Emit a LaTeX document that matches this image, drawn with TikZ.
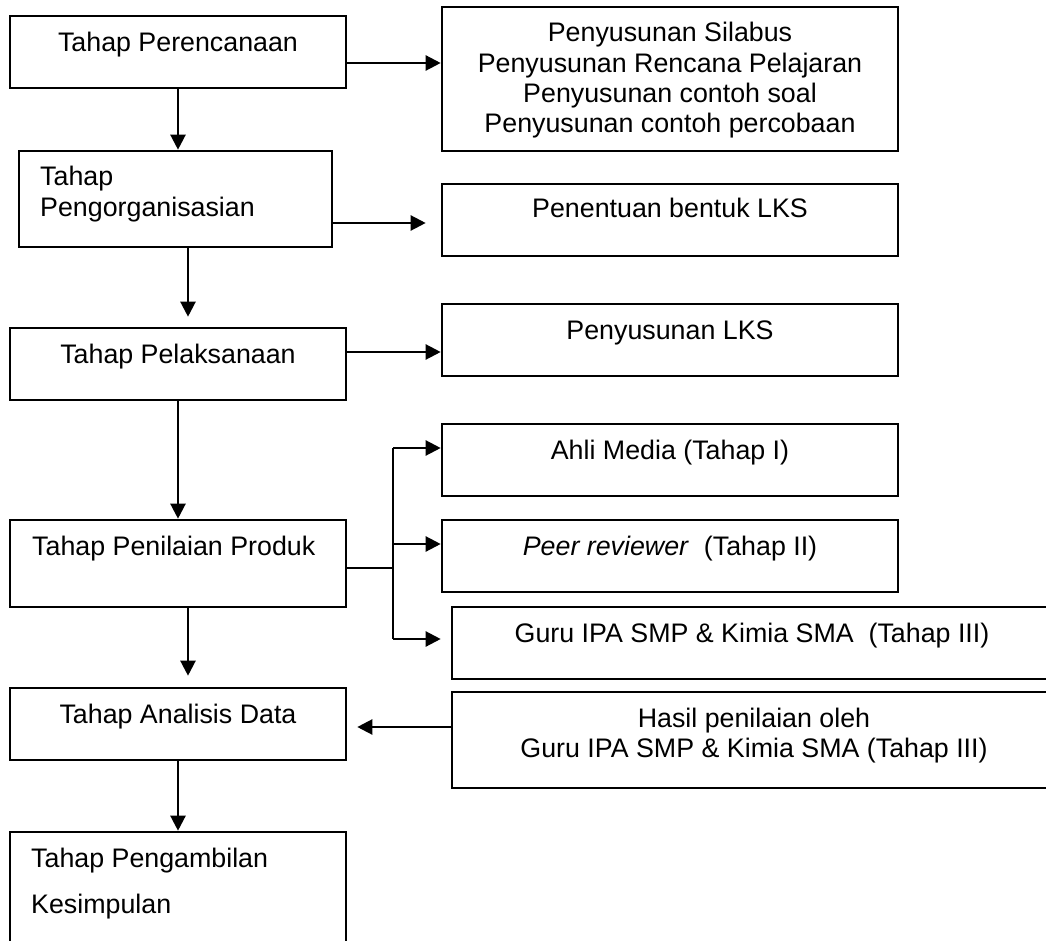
\documentclass[tikz,border=0pt]{standalone}
\usepackage{fontspec}
\setmainfont{Liberation Sans}
\usetikzlibrary{arrows.meta}
\begin{document}
\begin{tikzpicture}[x=1pt,y=-1pt,
  box/.style={draw,line width=2.6pt,rectangle,inner sep=0pt},
  txt/.style={inner sep=0pt,font=\fontsize{26.8}{30}\selectfont},
  conn/.style={line width=2.3pt},
  arr/.style={line width=2.3pt,-{Triangle[length=15pt,width=15pt]}}]
\useasboundingbox (0,0) rectangle (1046,941);
% left column boxes
\node[box,minimum width=336pt,minimum height=72pt] (per) at (178,52) {};
\node[box,minimum width=313pt,minimum height=96pt] (org) at (175.5,199) {};
\node[box,minimum width=336pt,minimum height=72pt] (pel) at (178,364) {};
\node[box,minimum width=336pt,minimum height=87pt] (pen) at (178,563.5) {};
\node[box,minimum width=336pt,minimum height=72pt] (ana) at (178,724) {};
\node[box,minimum width=336pt,minimum height=128pt] (amb) at (178,896) {};
% right column boxes
\node[box,minimum width=456pt,minimum height=144pt] (r1) at (670,79) {};
\node[box,minimum width=456pt,minimum height=72pt] (r2) at (670,220) {};
\node[box,minimum width=456pt,minimum height=72pt] (r3) at (670,340) {};
\node[box,minimum width=456pt,minimum height=72pt] (r4) at (670,460) {};
\node[box,minimum width=456pt,minimum height=72pt] (r5) at (670,556) {};
\node[box,minimum width=602pt,minimum height=72pt] (r6) at (753,643) {};
\node[box,minimum width=602pt,minimum height=96pt] (r7) at (753,740) {};
% texts
\node[txt,anchor=base] (tper) at (178,52) {Tahap Perencanaan};
\node[txt,anchor=base west] (torg1) at (40,186) {Tahap};
\node[txt,anchor=base west] (torg2) at (40,217) {Pengorganisasian};
\node[txt,anchor=base] (tpel) at (178,363) {Tahap Pelaksanaan};
\node[txt,anchor=base west] (tpen) at (32,555) {Tahap Penilaian Produk};
\node[txt,anchor=base] (tana) at (178,723) {Tahap Analisis Data};
\node[txt,anchor=base west] (tamb1) at (31,867) {Tahap Pengambilan};
\node[txt,anchor=base west] (tamb2) at (31,913) {Kesimpulan};
\node[txt,anchor=base] (tr1a) at (670,42) {Penyusunan Silabus};
\node[txt,anchor=base] (tr1b) at (670,73) {Penyusunan Rencana Pelajaran};
\node[txt,anchor=base] (tr1c) at (670,103) {Penyusunan contoh soal};
\node[txt,anchor=base] (tr1d) at (670,133) {Penyusunan contoh percobaan};
\node[txt,anchor=base] (tr2) at (670,218) {Penentuan bentuk LKS};
\node[txt,anchor=base] (tr3) at (670,339) {Penyusunan LKS};
\node[txt,anchor=base] (tr4) at (670,459) {Ahli Media (Tahap I)};
\node[txt,anchor=base] (tr5) at (670,555) {\textit{Peer reviewer}\ \ (Tahap II)};
\node[txt,anchor=base] (tr6) at (752,642) {Guru IPA SMP \& Kimia SMA\ \ (Tahap III)};
\node[txt,anchor=base] (tr7a) at (754,727) {Hasil penilaian oleh};
\node[txt,anchor=base] (tr7b) at (754,757) {Guru IPA SMP \& Kimia SMA (Tahap III)};
% helper coordinates
\coordinate (y63) at (0,63);
\coordinate (y223) at (0,223);
\coordinate (y352) at (0,352);
\coordinate (y727) at (0,727);
\coordinate (x188) at (188,0);
\coordinate (bm) at (393,568);
\coordinate (b1) at (393,448);
\coordinate (b2) at (393,544);
\coordinate (b3) at (393,639);
% connectors
\draw[arr] (per.east |- y63) -- (r1.west |- y63);
\draw[arr] (per.south) -- (per.south |- org.north);
\draw[arr,shorten >=15pt] (org.east |- y223) -- (r2.west |- y223);
\draw[arr,shorten >=10pt] (org.south -| x188) -- (pel.north -| x188);
\draw[arr] (pel.east |- y352) -- (r3.west |- y352);
\draw[arr] (pel.south) -- (pen.north);
\draw[conn] (pen.east |- bm) -- (bm);
\draw[conn] (b1) -- (b3);
\draw[arr] (b1) -- (r4.west |- b1);
\draw[arr] (b2) -- (r5.west |- b2);
\draw[arr,shorten >=10pt] (b3) -- (r6.west |- b3);
\draw[arr,shorten >=11pt] (pen.south -| x188) -- (ana.north -| x188);
\draw[arr,shorten >=10pt] (r7.west |- y727) -- (ana.east |- y727);
\draw[arr] (ana.south) -- (amb.north);
\end{tikzpicture}
\end{document}
